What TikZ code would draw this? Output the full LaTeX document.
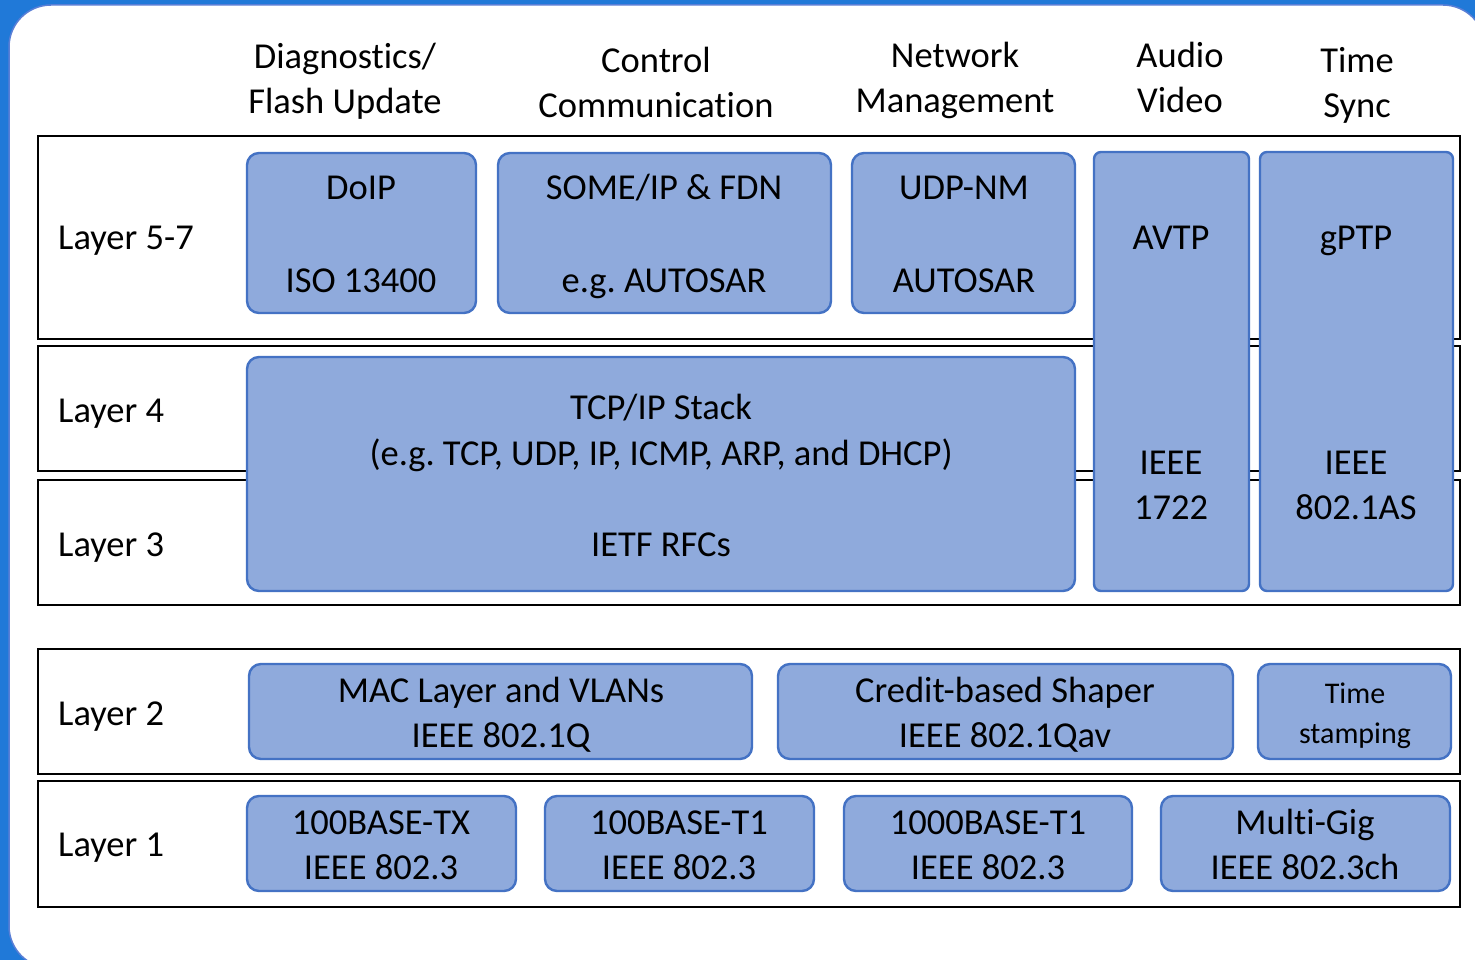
\documentclass[tikz,border=0pt]{standalone}
\usepackage{fontspec}
\setmainfont{Carlito}[RawFeature={-liga,-clig,-dlig,-calt}]
\frenchspacing
\newcommand{\nl}{\kern0pt}
\definecolor{bgblue}{HTML}{2079D8}
\definecolor{edge}{HTML}{5A7FD6}
\definecolor{bfill}{HTML}{8FAADC}
\definecolor{bord}{HTML}{4472C4}
\begin{document}
\begin{tikzpicture}[x=1pt,y=-1pt,
 lay/.style={draw=black,line width=2.6pt,anchor=north west,inner sep=0pt,outer sep=0pt},
 bbox/.style={draw=bord,fill=bfill,line width=2.4pt,rounded corners=12pt,anchor=north west,inner sep=0pt,outer sep=0pt},
 tbox/.style={bbox,rounded corners=7pt},
 txt/.style={anchor=base,inner sep=0pt,font=\fontsize{36.5}{44}\selectfont},
 stxt/.style={anchor=base,inner sep=0pt,font=\fontsize{30}{36}\selectfont},
 ltxt/.style={txt,anchor=base west}]
\useasboundingbox (0,0) rectangle (1475,960);
\fill[bgblue] (0,0) rectangle (1475,960);
\begin{scope}
\clip (0,0) rectangle (1475,960);
\draw[fill=white,draw=edge,line width=1.5pt,rounded corners=42pt] (1600,968) -- (9,968) -- (9,5) -- (1485,5) -- (1485,1100);
\end{scope}
% headers
\node[txt] (h1a) at (345,69) {Diagnost\nl ics/};
\node[txt] (h1b) at (345,114) {Flash Update};
\node[txt] (h2a) at (656,73) {Control};
\node[txt] (h2b) at (656,118) {Communicat\nl ion};
\node[txt] (h3a) at (955,68) {Network};
\node[txt] (h3b) at (955,113) {Management};
\node[txt] (h4a) at (1180,68) {Audio};
\node[txt] (h4b) at (1180,113) {Video};
\node[txt] (h5a) at (1357,73) {Time};
\node[txt] (h5b) at (1357,118) {Sync};
% layer frames
\node[lay,minimum width=1422pt,minimum height=203pt] (L57) at (38,136) {};
\node[lay,minimum width=1422pt,minimum height=125pt] (L4) at (38,346) {};
\node[lay,minimum width=1422pt,minimum height=125pt] (L3) at (38,480) {};
\node[lay,minimum width=1422pt,minimum height=125pt] (L2) at (38,649) {};
\node[lay,minimum width=1422pt,minimum height=126pt] (L1) at (38,781) {};
\node[ltxt] (l57) at (58,250) {Layer 5-7};
\node[ltxt] (l4) at (58,422) {Layer 4};
\node[ltxt] (l3) at (58,556) {Layer 3};
\node[ltxt] (l2) at (58,725) {Layer 2};
\node[ltxt] (l1) at (58,856) {Layer 1};
% layer 5-7 boxes
\node[bbox,minimum width=229pt,minimum height=160pt] (doip) at (247,153) {};
\node[bbox,minimum width=333pt,minimum height=160pt] (some) at (498,153) {};
\node[bbox,minimum width=223pt,minimum height=160pt] (udp) at (852,153) {};
\node[tbox,minimum width=155pt,minimum height=439pt] (avtp) at (1094,152) {};
\node[tbox,minimum width=193pt,minimum height=439pt] (gptp) at (1260,152) {};
\node[bbox,minimum width=828pt,minimum height=234pt] (tcp) at (247,357) {};
\node[txt] (t1a) at (361,200) {DoIP};
\node[txt] (t1b) at (361,292) {ISO 13400};
\node[txt] (t2a) at (664,200) {SOME/IP \& FDN};
\node[txt] (t2b) at (664,292) {e.g. AUTOSAR};
\node[txt] (t3a) at (964,200) {UDP-NM};
\node[txt] (t3b) at (964,292) {AUTOSAR};
\node[txt] (t4a) at (1171,250) {AVTP};
\node[txt] (t4b) at (1171,474) {IEEE};
\node[txt] (t4c) at (1171,519) {1722};
\node[txt] (t5a) at (1356,250) {gPTP};
\node[txt] (t5b) at (1356,474) {IEEE};
\node[txt] (t5c) at (1356,519) {802.1AS};
\node[txt] (t6a) at (661,419) {TCP/IP Stack};
\node[txt] (t6b) at (661,465) {(e.g. TCP, UDP, IP, ICMP, ARP, and DHCP)};
\node[txt] (t6c) at (661,556) {IETF RFCs};
% layer 2
\node[bbox,minimum width=503pt,minimum height=95pt] (mac) at (249,664) {};
\node[bbox,minimum width=455pt,minimum height=95pt] (cbs) at (778,664) {};
\node[bbox,minimum width=193pt,minimum height=95pt] (ts) at (1258,664) {};
\node[txt] (m1) at (501,702) {MAC Layer and VLANs};
\node[txt] (m2) at (501,747) {IEEE 802.1Q};
\node[txt] (c1) at (1005,702) {Credit-based Shaper};
\node[txt] (c2) at (1005,747) {IEEE 802.1Qav};
\node[stxt] (s1) at (1355,703) {Time};
\node[stxt] (s2) at (1355,743) {stamping};
% layer 1
\node[bbox,minimum width=269pt,minimum height=95pt] (tx) at (247,796) {};
\node[bbox,minimum width=269pt,minimum height=95pt] (tone) at (545,796) {};
\node[bbox,minimum width=288pt,minimum height=95pt] (gtone) at (844,796) {};
\node[bbox,minimum width=289pt,minimum height=95pt] (mg) at (1161,796) {};
\node[txt] (p1a) at (381,834) {100BASE-TX};
\node[txt] (p1b) at (381,879) {IEEE 802.3};
\node[txt] (p2a) at (679,834) {100BASE-T1};
\node[txt] (p2b) at (679,879) {IEEE 802.3};
\node[txt] (p3a) at (988,834) {1000BASE-T1};
\node[txt] (p3b) at (988,879) {IEEE 802.3};
\node[txt] (p4a) at (1305,834) {Multi-Gig};
\node[txt] (p4b) at (1305,879) {IEEE 802.3ch};
\end{tikzpicture}
\end{document}
